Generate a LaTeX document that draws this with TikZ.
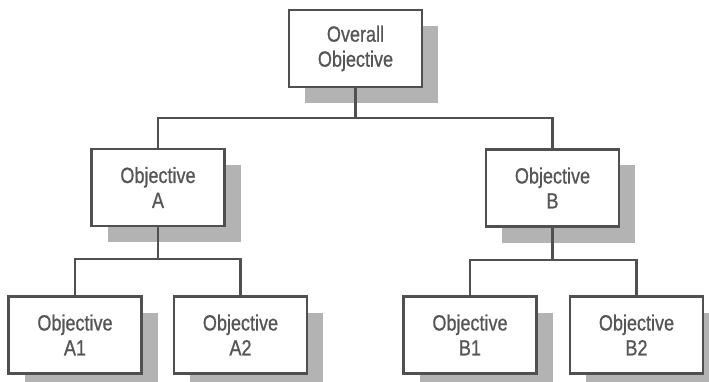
\documentclass[tikz,border=0pt]{standalone}
\usepackage{fontspec}
\setmainfont[FakeStretch=0.82,FakeBold=0.8]{Liberation Sans}
\usepackage{xcolor}
\usetikzlibrary{shadows}
\definecolor{linegray}{HTML}{505050}
\definecolor{textgray}{HTML}{555555}
\definecolor{shadegray}{HTML}{B3B3B3}

\begin{document}
\begin{tikzpicture}[x=1pt,y=-1pt]
				\tikzstyle{objbox}=[draw=linegray, line width=2.4pt, fill=white, minimum width=133pt, minimum height=77pt, align=center, text=textgray, font=\fontsize{22}{25}\selectfont, drop shadow={shadow xshift=16pt, shadow yshift=-16pt, fill=shadegray, opacity=1}]
				\tikzstyle{link}=[draw=linegray, line width=2.4pt]
				\useasboundingbox (0,0) rectangle (709,382);
				\node [objbox] (top) at (355.5,48.5) {Overall\\Objective};
				\node [objbox] (a) at (158,187.5) {Objective\\A};
				\node [objbox] (b) at (552.5,188) {Objective\\B};
				\node [objbox] (a1) at (75,335) {Objective\\A1};
				\node [objbox] (a2) at (240.5,335) {Objective\\A2};
				\node [objbox] (b1) at (470,335) {Objective\\B1};
				\node [objbox] (b2) at (636.5,335) {Objective\\B2};
				\draw [link] (top.south) -- ++(0,30) -| (a.north);
				\draw [link] (top.south) -- ++(0,30) -| (b.north);
				\draw [link] (a.south) -- ++(0,32) -| (a1.north);
				\draw [link] (a.south) -- ++(0,32) -| (a2.north);
				\draw [link] (b.south) -- ++(0,32) -| (b1.north);
				\draw [link] (b.south) -- ++(0,32) -| (b2.north);
\end{tikzpicture}
\end{document}
